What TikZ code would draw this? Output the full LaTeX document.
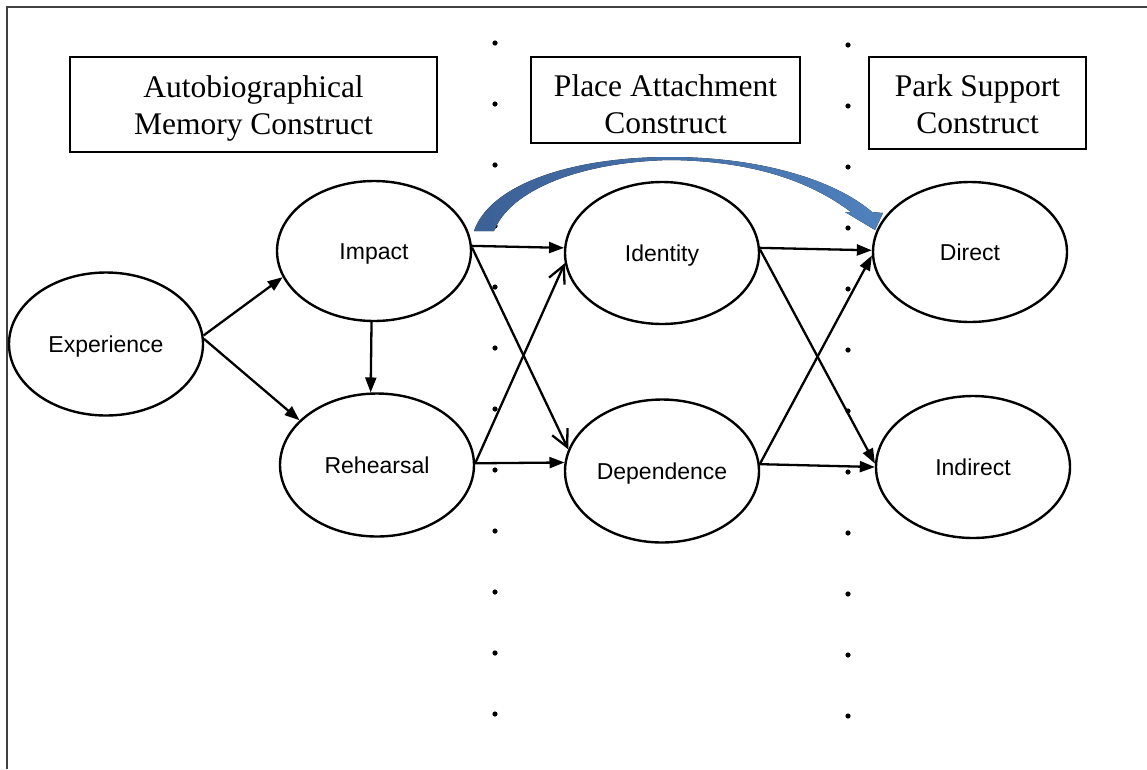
\documentclass[tikz,border=0pt]{standalone}
\usepackage{fontspec}
\setmainfont{Liberation Serif}
\setsansfont{Liberation Sans}
\usetikzlibrary{shapes.geometric,arrows.meta}
\definecolor{arrowdark}{HTML}{3C6196}
\definecolor{arrowlight}{HTML}{4F81BD}
\definecolor{framegray}{HTML}{404040}
\begin{document}
\begin{tikzpicture}[x=1pt,y=-1pt,
  constructbox/.style={draw,line width=1.5pt,inner sep=0pt},
  constructtext/.style={align=center,inner sep=0pt,
    font=\fontsize{31.5}{37.5}\selectfont},
  factor/.style={ellipse,draw,line width=2.4pt,inner sep=0pt,
    minimum width=194pt,minimum height=143pt,
    text height=16.5pt,text depth=0pt,
    font=\sffamily\fontsize{23}{27}\selectfont},
  link/.style={line width=2.3pt,-{Triangle[length=15pt,width=11pt]}},
  openlink/.style={line width=2.3pt,-{Straight Barb[length=17pt,width=17pt]}},
  sepdot/.style={fill=black},
]
\useasboundingbox (0,0) rectangle (1147,769);

% outer frame (top and left edges only)
\draw[framegray,line width=1.5pt] (7,769) -- (7,7) -- (1147,7);

% dotted separators between construct columns
\foreach \k in {0,...,11}{
  \fill[sepdot] (495,43+61*\k) circle (2.6pt);
  \fill[sepdot] (848,45+61*\k) circle (2.6pt);
}

% construct headings
\node[constructbox,minimum width=367pt,minimum height=95pt] (abm) at (253.5,104.5) {};
\node[constructtext] (abmtext) at (253.5,108.5) {Autobiographical\\Memory Construct};
\node[constructbox,minimum width=269pt,minimum height=86pt] (pac) at (665.5,100) {};
\node[constructtext] (pactext) at (665.5,104) {Place Attachment\\Construct};
\node[constructbox,minimum width=217pt,minimum height=92pt] (psc) at (977.5,103) {};
\node[constructtext] (psctext) at (977.5,104) {Park Support\\Construct};

% factors
\node[factor] (exp) at (106,344) {Experience};
\node[factor,minimum height=140pt] (imp) at (374,251) {Impact};
\node[factor] (reh) at (377,465) {Rehearsal};
\node[factor,minimum height=142pt] (ide) at (662,253) {Identity};
\node[factor] (dep) at (662,471) {Dependence};
\node[factor,minimum height=140pt] (dir) at (970,252) {Direct};
\node[factor,minimum height=142pt] (ind) at (973,467) {Indirect};

% paths within autobiographical memory
\draw[link] (exp.5) -- (imp.196);
\draw[link] (exp.3) -- (reh.150);
\draw[link] (imp.268) -- (reh.95);

% paths to place attachment
\draw[link] (imp.3) -- (ide.177);
\draw[openlink] (imp.2) -- (dep.167);
\draw[openlink] (reh.1) -- (ide.186);
\draw[link] (reh.1) -- (dep.175);

% paths to park support
\draw[link] (ide.3) -- (dir.179);
\draw[link] (ide.2) -- (ind.178);
\draw[link] (dep.4) -- (dir.182);
\draw[link] (dep.4) -- (ind.180);

% direct effect of impact on direct support (curved block arrow)
\fill[left color=arrowdark,right color=arrowlight]
  (474,231) .. controls (490,185) and (570,157) .. (670,157)
  .. controls (760,157) and (835,180) .. (872,212)
  -- (883,213) -- (875,230) -- (845,212) -- (851,212)
  .. controls (815,185) and (760,161) .. (670,160)
  .. controls (580,162) and (510,190) .. (494,231) -- cycle;
\end{tikzpicture}
\end{document}
